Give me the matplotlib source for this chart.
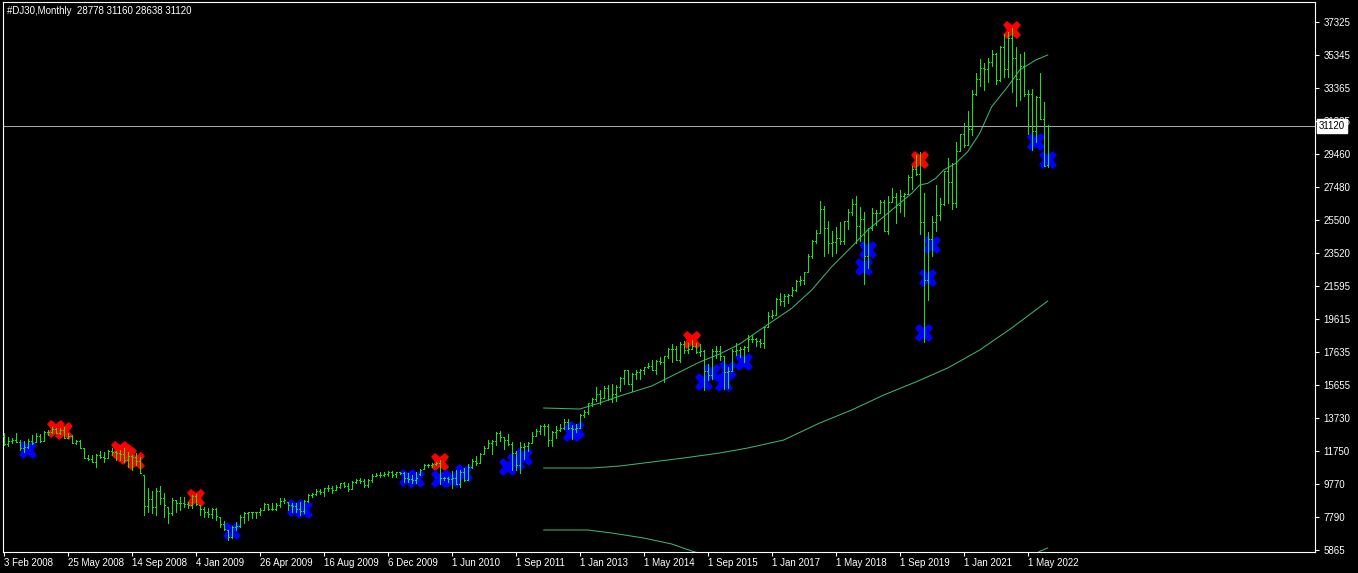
import numpy as np
import matplotlib
matplotlib.use("Agg")
import matplotlib.pyplot as plt
import matplotlib.transforms as mtransforms
from matplotlib.collections import LineCollection

# weekly bars, week of 3 Feb 2008 .. end of May 2010
wk_open = [12650, 12182, 12348, 12381, 12266, 11894, 11951, 12361, 12250, 12610,
           12329, 12849, 12891, 13058, 12800, 12986, 12500, 12638, 12210, 12307,
           11900, 11346, 11288, 11101, 11496, 11370, 11326, 11734, 11659, 11628,
           11544, 11220, 11421, 11388, 11143, 10300, 8451, 8852, 8378, 9325,
           8943, 8419, 8046, 8816, 8635, 8629, 8579, 8515, 9034, 8518,
           8281, 8077, 8000, 8280, 7823, 7365, 7028, 6627, 7224, 7278,
           7776, 8018, 8083, 8110, 8076, 8220, 8558, 8268, 8277, 8500,
           8764, 8717, 8539, 8438, 8280, 8146, 8743, 9093, 9171, 9370,
           9321, 9505, 9544, 9441, 9605, 9820, 9665, 9487, 9865, 9996,
           9972, 9713, 10023, 10270, 10318, 10310, 10389, 10471, 10370, 10460,
           10428, 10100, 10067, 10012, 10350, 10650, 10900, 10930, 10990, 11009,
           10150, 10100, 10050]
wk_high = [12786, 12587, 12528, 12786, 12389, 12329, 12448, 12687, 12786, 12726,
           12925, 12984, 13183, 13123, 13123, 13183, 12786, 12687, 12389, 12389,
           11932, 11495, 11495, 11535, 11733, 11694, 11793, 11892, 11733, 11793,
           11892, 11694, 11495, 11594, 11396, 10303, 9509, 9380, 9511, 9630,
           9213, 8419, 8915, 8816, 9015, 9015, 8717, 9114, 9154, 8518,
           8419, 8359, 8359, 8320, 7823, 7565, 7028, 7287, 7525, 7922,
           8081, 8121, 8121, 8121, 8320, 8617, 8558, 8617, 8617, 8955,
           8955, 8717, 8617, 8617, 8717, 8816, 9154, 9253, 9452, 9452,
           9511, 9710, 9650, 9710, 9849, 9908, 9849, 9968, 10047, 10107,
           10047, 10047, 10365, 10444, 10504, 10504, 10564, 10564, 10504, 10465,
           10480, 10445, 10306, 10504, 10643, 10961, 10961, 11001, 11100, 11200,
           10206, 10206, 10564]
wk_low = [12091, 12051, 12190, 12250, 11793, 11694, 11892, 12130, 12250, 12289,
          12329, 12687, 12786, 12786, 12726, 12488, 12488, 12190, 12130, 11892,
          11296, 11197, 11098, 10800, 11336, 11098, 11296, 11495, 11197, 11197,
          11098, 10800, 10601, 10899, 10403, 7920, 8119, 8070, 7922, 8560,
          7823, 7426, 7922, 8081, 8220, 8419, 8319, 8319, 8518, 7922,
          7823, 7823, 7724, 7624, 7227, 7028, 6433, 6532, 7028, 7227,
          7426, 7624, 7724, 7724, 7922, 8220, 8220, 8220, 8220, 8419,
          8617, 8220, 8121, 8121, 7922, 8021, 8717, 8975, 9114, 9173,
          9054, 9372, 9253, 9412, 9511, 9610, 9372, 9511, 9809, 9809,
          9610, 9610, 9908, 10246, 10166, 10246, 10246, 10206, 10206, 10365,
          9900, 9909, 9809, 9809, 10306, 10643, 10802, 10802, 10902, 9750,
          10008, 9909, 9511]
wk_close = [12182, 12348, 12381, 12266, 11894, 11951, 12361, 12216, 12610, 12325,
            12849, 12891, 13058, 12800, 12986, 12500, 12638, 12210, 12307, 11900,
            11346, 11288, 11101, 11496, 11370, 11326, 11734, 11659, 11628, 11544,
            11220, 11421, 11388, 11143, 10420, 8451, 8852, 8378, 9325, 8943,
            8497, 8046, 8829, 8635, 8629, 8579, 8515, 9034, 8599, 8281,
            8077, 8000, 8280, 7850, 7365, 7063, 6627, 7224, 7278, 7776,
            8018, 8083, 8110, 8076, 8212, 8575, 8268, 8277, 8500, 8764,
            8799, 8539, 8438, 8280, 8146, 8743, 9093, 9171, 9370, 9321,
            9505, 9544, 9441, 9605, 9820, 9665, 9487, 9865, 9996, 9972,
            9713, 10023, 10270, 10318, 10310, 10389, 10471, 10329, 10500, 10428,
            10100, 10067, 10012, 10099, 10600, 10900, 10930, 10990, 11009, 10150,
            10100, 10050, 10137]

# monthly bars, Jun 2010 .. Oct 2022
mo_open = [10137, 9774, 10466, 10015, 10788, 11118, 11006,
           11578, 11892, 12226, 12320, 12811, 12570, 12414, 12143, 11614, 10913, 11955, 12046,
           12218, 12633, 12952, 13212, 13214, 12393, 12880, 13009, 13091, 13437, 13096, 13026,
           13104, 13861, 14054, 14579, 14840, 15116, 14910, 15500, 14810, 15130, 15546, 16086,
           16577, 15699, 16322, 16458, 16581, 16717, 16827, 16563, 17098, 17043, 17391, 17828,
           17823, 17165, 18133, 17776, 17841, 18011, 17620, 17690, 16528, 16285, 17664, 17720,
           17425, 16466, 16517, 17685, 17774, 17787, 17930, 18432, 18401, 18308, 18142, 19124,
           19763, 19864, 20812, 20663, 20941, 21009, 21350, 21891, 21948, 22405, 23377, 24272,
           24719, 26149, 25029, 24103, 24163, 24416, 24271, 25415, 25965, 26458, 25116, 25538,
           23327, 24999, 25916, 25929, 26593, 24815, 26600, 26864, 26403, 26917, 27046, 28051,
           28538, 28256, 25409, 21917, 24346, 25383, 25813, 26428, 28430, 27782, 26502, 29638,
           30606, 29983, 30932, 32982, 33875, 34529, 34503, 34935, 35361, 33844, 35820, 34484,
           36338, 35132, 33893, 34678, 32977, 32990, 30775, 32845, 31510, 28778]
mo_high = [10595, 10584, 10720, 10948, 11245, 11452, 11625,
           12020, 12391, 12419, 12876, 12929, 12571, 12753, 12285, 11717, 12284, 12187, 12287,
           12843, 13055, 13290, 13338, 13338, 12899, 13205, 13330, 13653, 13661, 13290, 13366,
           13969, 14150, 14585, 14888, 15542, 15341, 15634, 15658, 15710, 15680, 16174, 16588,
           16588, 16398, 16588, 16631, 16735, 16978, 17151, 17153, 17350, 17395, 17895, 18103,
           18000, 18244, 18289, 18175, 18351, 18184, 18137, 17726, 16933, 17799, 17978, 17985,
           17425, 16743, 17790, 18168, 17934, 18016, 18622, 18668, 18497, 18399, 19152, 19988,
           20126, 20851, 21169, 21071, 21113, 21535, 21929, 22179, 22420, 23485, 24327, 24876,
           26617, 26307, 25450, 24858, 25087, 25402, 25462, 26168, 26770, 26951, 26277, 25980,
           25040, 26241, 26110, 26696, 26667, 26908, 27398, 27094, 27306, 27122, 28175, 28702,
           29374, 29568, 27102, 24764, 25758, 27581, 26838, 28431, 29199, 28902, 30117, 30637,
           31272, 32010, 33259, 34257, 35092, 34849, 35171, 35631, 35444, 35892, 36566, 36679,
           36952, 35824, 35372, 35492, 33272, 33306, 32910, 34281, 32504, 31160]
mo_low = [9758, 9614, 9936, 10015, 10711, 10930, 11006,
          11578, 11892, 11555, 12093, 12308, 11862, 12093, 10604, 10597, 10404, 11231, 11735,
          12218, 12632, 12742, 12710, 12036, 12035, 12493, 12928, 13035, 13060, 12471, 12883,
          13104, 13785, 13938, 14434, 14688, 14551, 14910, 14761, 14640, 14720, 15340, 15703,
          15699, 15340, 16018, 16015, 16334, 16680, 16563, 16333, 16945, 15855, 17291, 17067,
          17136, 17038, 17585, 17588, 17792, 17575, 17399, 15370, 15942, 16013, 17250, 17139,
          15451, 15503, 16510, 17485, 17331, 17063, 17713, 18247, 17992, 17959, 17884, 19124,
          19677, 19831, 20413, 20379, 20553, 20960, 21279, 21600, 21709, 22400, 23242, 24117,
          24700, 23360, 23509, 23344, 23531, 24085, 24077, 24965, 25784, 24123, 24268, 21713,
          22638, 24883, 25209, 25929, 24815, 24680, 26600, 25340, 25978, 25743, 27046, 27325,
          28170, 24681, 18214, 20735, 23361, 24843, 25524, 26365, 26537, 26143, 26277, 29638,
          29856, 29983, 30547, 32921, 33473, 33272, 33741, 34690, 33613, 33785, 34006, 34006,
          33150, 32272, 32632, 32913, 30636, 29653, 30143, 31509, 28715, 28638]
mo_close = [9774, 10466, 10015, 10788, 11118, 11006, 11578,
            11892, 12226, 12320, 12811, 12570, 12414, 12143, 11614, 10913, 11955, 12046, 12218,
            12633, 12952, 13212, 13214, 12393, 12880, 13009, 13091, 13437, 13096, 13026, 13104,
            13861, 14054, 14579, 14840, 15116, 14910, 15500, 14810, 15130, 15546, 16086, 16577,
            15699, 16322, 16458, 16581, 16717, 16827, 16563, 17098, 17043, 17391, 17828, 17823,
            17165, 18133, 17776, 17841, 18011, 17620, 17690, 16528, 16285, 17664, 17720, 17425,
            16466, 16517, 17685, 17774, 17787, 17930, 18432, 18401, 18308, 18142, 19124, 19763,
            19864, 20812, 20663, 20941, 21009, 21350, 21891, 21948, 22405, 23377, 24272, 24719,
            26149, 25029, 24103, 24163, 24416, 24271, 25415, 25965, 26458, 25116, 25538, 23327,
            24999, 25916, 25929, 26593, 24815, 26600, 26864, 26403, 26917, 27046, 28051, 28538,
            28256, 25409, 21917, 24346, 25383, 25813, 26428, 28430, 27782, 26502, 29638, 30606,
            29983, 30932, 32982, 33875, 34529, 34503, 34935, 35361, 33844, 35820, 34484, 36338,
            35132, 33893, 34678, 32977, 32990, 30775, 32845, 31510, 28725, 31120]

date_labels = ["3 Feb 2008", "25 May 2008", "14 Sep 2008", "4 Jan 2009", "26 Apr 2009",
               "16 Aug 2009", "6 Dec 2009", "1 Jun 2010", "1 Sep 2011", "1 Jan 2013",
               "1 May 2014", "1 Sep 2015", "1 Jan 2017", "1 May 2018", "1 Sep 2019",
               "1 Jan 2021", "1 May 2022"]
price_labels = [5865, 7790, 9770, 11750, 13730, 15655, 17635, 19615, 21595,
                23520, 25500, 27480, 29460, 31385, 33365, 35345, 37325]
last_price = 31120
title = "#DJ30,Monthly  28778 31160 28638 31120"

# signal crosses (bar index, price)
red_bars = [13, 15, 29, 30, 31, 33, 48, 109, 172, 229, 252]
red_prices = [13050, 12930, 11790, 11600, 11420, 11120, 8960, 11100, 18350, 29080, 36820]
blue_bars = [6, 57, 73, 75, 101, 103, 109, 112, 115, 126, 128, 130, 142, 143,
             175, 177, 180, 181, 185, 215, 216, 230, 231, 232, 258, 261]
blue_prices = [11800, 6960, 8340, 8220, 10110, 10050, 10050, 10050, 10400, 10780, 11080, 11380,
               12790, 12990, 15850, 16380, 15760, 16540, 17010, 22700, 23710, 18770, 22030,
               24010, 30150, 29100]

# band lines (sampled bar index, price)
upper_bars = [135, 144, 149, 154, 162, 169, 174, 179, 184, 189, 197, 202, 207, 212, 216,
              220, 223, 227, 229, 231, 233, 235, 238, 241, 244, 247, 251, 254, 258, 261]
upper_vals = [14297, 14237, 14595, 15012, 15608, 16442, 17038, 17515, 18110, 18944, 20237,
              21328, 22716, 23908, 24903, 25695, 26291, 27089, 27584, 27685, 27983, 28477,
              28876, 29568, 30664, 32249, 33440, 34435, 35031, 35329]
mid_bars = [135, 147, 154, 162, 170, 179, 186, 195, 204, 212, 220, 228, 236, 244, 252, 261]
mid_vals = [10722, 10722, 10840, 11079, 11318, 11616, 11914, 12391, 13404, 14178, 15072,
            15847, 16681, 17753, 19064, 20672]
lower_bars_a = [135, 146, 152, 160, 167, 172, 176]
lower_vals_a = [7029, 7029, 6850, 6552, 6195, 5778, 5500]
lower_bars_b = [257, 259, 261]
lower_vals_b = [5450, 5760, 5956]

opens = np.array(wk_open + mo_open)
highs = np.array(wk_high + mo_high)
lows = np.array(wk_low + mo_low)
closes = np.array(wk_close + mo_close)
idx = np.arange(len(opens))

W, H = 1358, 573
fig = plt.figure(figsize=(W / 100, H / 100), dpi=100, facecolor="black")
ax = fig.add_axes([2.5 / W, 21.5 / H, 1312.5 / W, 549.5 / H], facecolor="black")
ax.set_xlim(-0.3, -0.3 + 1312.5 / 4)
ax.set_ylim(5748, 38487)

band_color = "#3cb371"
ax.plot(upper_bars, upper_vals, color=band_color, lw=0.75, zorder=1)
ax.plot(mid_bars, mid_vals, color=band_color, lw=0.75, zorder=1)
ax.plot(lower_bars_a, lower_vals_a, color=band_color, lw=0.75, zorder=1)
ax.plot(lower_bars_b, lower_vals_b, color=band_color, lw=0.75, zorder=1)

ax.axhline(last_price, color="#9ea6ae", lw=0.75, zorder=1)

ax.plot(red_bars, red_prices, "X", color="#ff0000", ms=13.5, mew=0, zorder=2)
ax.plot(blue_bars, blue_prices, "X", color="#0000ff", ms=13.5, mew=0, zorder=2)

# OHLC bars: high-low stick, open tick left, close tick right
segs = []
for i, o, h, l, c in zip(idx, opens, highs, lows, closes):
    segs.append([(i, l), (i, h)])
    segs.append([(i - 0.3, o), (i, o)])
    segs.append([(i, c), (i + 0.3, c)])
bars = LineCollection(segs, colors="#14e614", linewidths=0.6, antialiaseds=False, zorder=3)
ax.add_collection(bars)

font = "Liberation Sans"
for s in ax.spines.values():
    s.set_color("white")
    s.set_linewidth(0.8)

ax.set_xticks(np.arange(0, 16 * len(date_labels), 16))
ax.set_xticklabels(date_labels, ha="left", fontsize=7, color="white", family=font)
ax.tick_params(axis="x", colors="white", length=3, width=0.8, pad=1.5)

ax.yaxis.tick_right()
ax.set_yticks(price_labels)
ax.set_yticklabels([str(v) for v in price_labels], fontsize=7, color="white", family=font)
ax.tick_params(axis="y", colors="white", length=3, width=0.8, pad=3)

trans = mtransforms.blended_transform_factory(ax.transAxes, ax.transData)
ax.text(1.003, last_price, str(last_price), transform=trans, ha="left", va="center",
        fontsize=7, color="black", family=font, zorder=5, clip_on=False,
        bbox=dict(boxstyle="square,pad=0.2", fc="white", ec="white"))

fig.text(7 / W, 1 - 10.5 / H, title, ha="left", va="center", fontsize=7,
         color="white", family=font)

fig.savefig("out.png", dpi=100, facecolor="black")
